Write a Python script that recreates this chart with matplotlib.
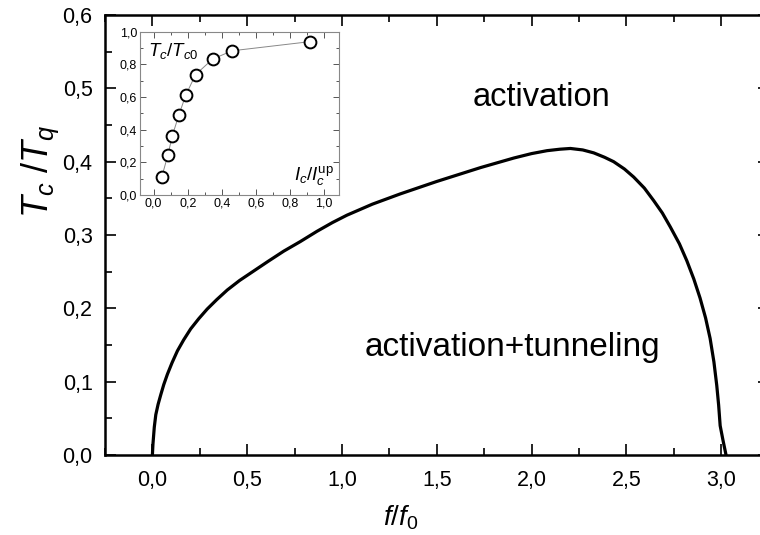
import matplotlib
matplotlib.use('Agg')
import matplotlib.pyplot as plt
from matplotlib.ticker import MultipleLocator, FuncFormatter

plt.rcParams['font.family'] = ['Liberation Sans', 'DejaVu Sans']
plt.rcParams['mathtext.fontset'] = 'custom'
plt.rcParams['mathtext.rm'] = 'Liberation Sans'
plt.rcParams['mathtext.it'] = 'Liberation Sans:italic'

# phase boundary T_c/T_q vs f/f_0
f_ratio = [0.0, 0.003, 0.010, 0.018, 0.030, 0.044, 0.060, 0.079, 0.104, 0.132,
           0.165, 0.202, 0.245, 0.289, 0.340, 0.395, 0.460, 0.535, 0.610,
           0.693, 0.780, 0.868, 0.950, 1.026, 1.160, 1.307, 1.5, 1.732, 1.907,
           2.000, 2.082, 2.150, 2.205, 2.270, 2.328, 2.385, 2.433, 2.490,
           2.539, 2.595, 2.644, 2.690, 2.732, 2.780, 2.819, 2.856, 2.889,
           2.918, 2.942, 2.962, 2.977, 2.987, 2.995, 3.010, 3.026]
tc_tq = [0.0, 0.015, 0.038, 0.055, 0.069, 0.082, 0.096, 0.110, 0.126, 0.142,
         0.157, 0.172, 0.186, 0.199, 0.212, 0.225, 0.238, 0.251, 0.264,
         0.278, 0.291, 0.305, 0.317, 0.327, 0.342, 0.356, 0.373, 0.392, 0.405,
         0.411, 0.415, 0.417, 0.418, 0.416, 0.412, 0.406, 0.400, 0.390,
         0.379, 0.364, 0.347, 0.330, 0.311, 0.288, 0.265, 0.240, 0.214,
         0.187, 0.159, 0.127, 0.095, 0.068, 0.040, 0.020, 0.0]

# inset: T_c/T_c0 vs I_c/I_c^up
ic_ratio = [0.048, 0.083, 0.11, 0.148, 0.188, 0.246, 0.346, 0.46, 0.917]
tc_tc0 = [0.111, 0.242, 0.364, 0.489, 0.61, 0.737, 0.832, 0.883, 0.939]

comma = FuncFormatter(lambda v, p: f"{v:.1f}".replace('.', ','))

fig = plt.figure(figsize=(7.6, 5.35), dpi=100)
ax = fig.add_axes([105 / 760, 80 / 535, 663.5 / 760, 440 / 535])
ax.plot(f_ratio, tc_tq, color='black', lw=2.3, solid_joinstyle='round')
ax.set_xlim(-0.25, 3.25)
ax.set_ylim(0, 0.6)
ax.xaxis.set_major_locator(MultipleLocator(0.5))
ax.xaxis.set_minor_locator(MultipleLocator(0.25))
ax.yaxis.set_major_locator(MultipleLocator(0.1))
ax.yaxis.set_minor_locator(MultipleLocator(0.05))
ax.xaxis.set_major_formatter(comma)
ax.yaxis.set_major_formatter(comma)
ax.tick_params(which='both', direction='in', top=True, right=True, width=1.2)
ax.tick_params(which='major', length=8, labelsize=15.5)
ax.tick_params(which='minor', length=5)
ax.tick_params(axis='x', which='major', pad=11)
ax.tick_params(axis='y', which='major', pad=9)
for s in ax.spines.values():
    s.set_linewidth(1.8)

ax.set_xlabel('$f/f_0$', fontsize=20)
ax.xaxis.set_label_coords(0.445, -0.11)
ax.set_ylabel('$T_c\\,\\,/T_q$', fontsize=26)
ax.yaxis.set_label_coords(-0.066, 0.645)

ax.text(2.05, 0.488, 'activation', fontsize=23.5, ha='center', va='center')
ax.text(1.9, 0.147, 'activation+tunneling', fontsize=24, ha='center', va='center')

# inset
ins = fig.add_axes([140 / 760, 1 - 195 / 535, 199.3 / 760, 163.3 / 535])
ins.plot(ic_ratio, tc_tc0, color='#888888', lw=0.7, marker='o', ms=8.5,
         mfc='white', mec='black', mew=1.4)
ins.set_xlim(-0.08, 1.09)
ins.set_ylim(0, 1.0)
ins.xaxis.set_major_locator(MultipleLocator(0.2))
ins.xaxis.set_minor_locator(MultipleLocator(0.1))
ins.yaxis.set_major_locator(MultipleLocator(0.2))
ins.yaxis.set_minor_locator(MultipleLocator(0.1))
ins.xaxis.set_major_formatter(comma)
ins.yaxis.set_major_formatter(comma)
ins.tick_params(which='both', direction='in', top=True, right=True,
                width=0.7, color='#555555', labelsize=9, pad=2)
ins.tick_params(which='major', length=4)
ins.tick_params(which='minor', length=2.5)
for s in ins.spines.values():
    s.set_linewidth(0.8)
    s.set_edgecolor('#888888')
ins.text(0.04, 0.94, '$T_c/T_{c0}$', transform=ins.transAxes,
         fontsize=13.5, ha='left', va='top')
ins.text(0.975, 0.04, '$I_c/I_c^{\\mathrm{up}}$', transform=ins.transAxes,
         fontsize=13.5, ha='right', va='bottom')

fig.savefig('out.png', dpi=100)
